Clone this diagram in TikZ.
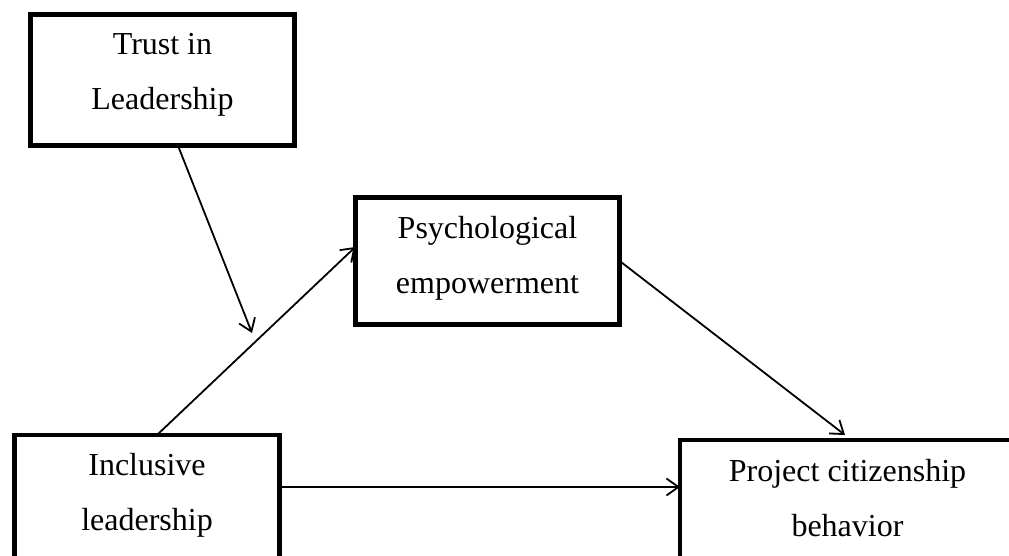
\documentclass[tikz,border=0pt]{standalone}
\usepackage{fontspec}
\setmainfont{Liberation Serif}
\usetikzlibrary{arrows.meta,calc}
\begin{document}
\begin{tikzpicture}[x=1pt,y=-1pt,
  box/.style={draw=black,line width=4.6pt,rectangle,inner sep=0pt,outer sep=0pt,sharp corners},
  lbl/.style={font=\fontsize{32}{40}\selectfont,anchor=base,inner sep=0pt},
  arr/.style={line width=1.8pt,-{Straight Barb[length=12pt,width=17pt,line width=1.8pt]}}]
\useasboundingbox (0,0) rectangle (1009,556);
\clip (0,0) rectangle (1009,556);
\fill[white] (0,0) rectangle (1009,556);
% boxes
\node[box,minimum width=264.4pt,minimum height=131.4pt] (trust) at (162.5,80) {};
\node[box,minimum width=264.4pt,minimum height=127.4pt] (psych) at (487.5,261) {};
\node[box,minimum width=265.4pt,minimum height=130pt] (incl) at (147,500) {};
\node[box,minimum width=335pt,minimum height=130pt] (proj) at (847.5,505) {};
% texts
\node[lbl] (t1) at (162.5,55) {Trust in};
\node[lbl] (t2) at (162.5,110) {Leadership};
\node[lbl] (p1) at (487.5,238) {Psychological};
\node[lbl] (p2) at (487.5,293) {empowerment};
\node[lbl] (i1) at (147,475) {Inclusive};
\node[lbl] (i2) at (147,530) {leadership};
\node[lbl] (j1) at (847.5,481) {Project citizenship};
\node[lbl] (j2) at (847.5,536) {behavior};
% connectors
\coordinate (mod) at (252,333);
\draw[arr] ($(trust.south)+(15.5,0)$) -- (mod);
\draw[arr] ($(incl.north)+(10,0)$) -- ($(psych.west)+(0,-14)$);
\draw[arr] (psych.east) -- ($(proj.north)+(-2.5,-5)$);
\coordinate (h1) at ($(incl.east)+(0,-13)$);
\draw[arr] (h1) -- (h1 -| proj.west);
\end{tikzpicture}
\end{document}
